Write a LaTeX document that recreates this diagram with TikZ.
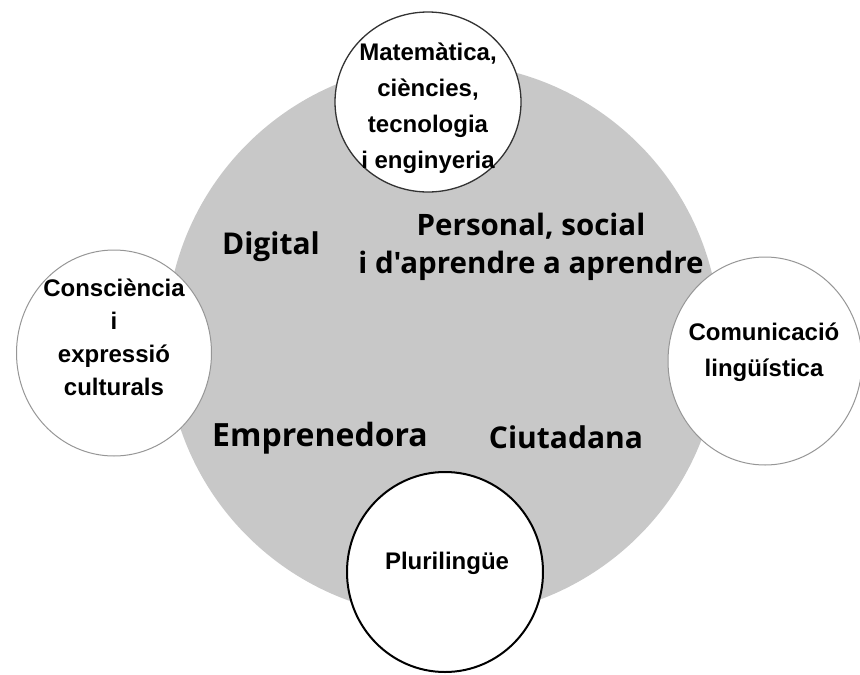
\documentclass[tikz,border=0pt]{standalone}
\usepackage{fontspec}
\usepackage{xcolor}
\usetikzlibrary{shapes.geometric}
\newfontfamily\areafont{Liberation Sans}
\newfontfamily\corefont{Open Sans}
\definecolor{coregrey}{RGB}{200,200,200}
\definecolor{rimgrey}{RGB}{150,150,150}

\begin{document}
\begin{tikzpicture}[x=1pt,y=-1pt,
        area/.style={ellipse,fill=white,inner sep=0pt,align=center,
                font=\areafont\bfseries\fontsize{24}{36}\selectfont},
        comp/.style={align=center,font=\corefont\bfseries\fontsize{30}{38}\selectfont}]
        \useasboundingbox (0,0) rectangle (860,675);
        \node[circle,fill=coregrey,minimum size=554pt,inner sep=0pt](core) at (443,340) {};
        \node[area,draw=black!80,line width=1.3pt,minimum width=186pt,minimum height=180pt](stem) at (428,102) {};
        \node[area,draw=rimgrey,line width=1pt,minimum width=195pt,minimum height=206pt](cult) at (114,353) {};
        \node[area,draw=rimgrey,line width=1pt,minimum width=194pt,minimum height=208pt](ling) at (765,361) {};
        \node[area,draw=black,line width=2pt,minimum width=196pt,minimum height=200pt](pluri) at (445,572) {};
        \node[area,fill=none](stemt) at (428,108) {Matemàtica,\\ciències,\\tecnologia\\i enginyeria};
        \node[area,fill=none,font=\areafont\bfseries\fontsize{24}{33}\selectfont](cultt) at (114,337) {Consciència\\i\\expressió\\culturals};
        \node[area,fill=none](lingt) at (764,352) {Comunicació\\lingüística};
        \node[area,fill=none](plurit) at (447,563) {Plurilingüe};
        \node[comp](digital) at (271,247) {Digital};
        \node[comp,font=\corefont\bfseries\fontsize{29.5}{38}\selectfont](personal) at (531,247) {Personal, social\\i d'aprendre a aprendre};
        \node[comp,font=\corefont\bfseries\fontsize{32}{38}\selectfont](empren) at (320,438) {Emprenedora};
        \node[comp](ciutad) at (566,437) {Ciutadana};
\end{tikzpicture}
\end{document}
